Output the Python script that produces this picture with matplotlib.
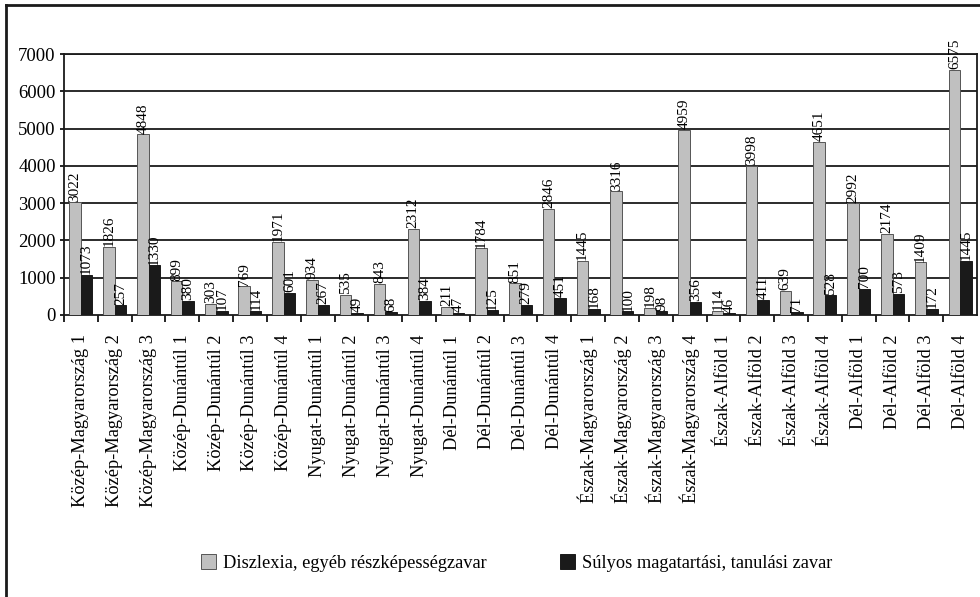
import matplotlib
matplotlib.use("Agg")
import matplotlib.pyplot as plt
from matplotlib.lines import Line2D
import numpy as np

plt.rcParams['font.family'] = ['Liberation Serif', 'DejaVu Serif']

categories = [
    "Közép-Magyarország 1", "Közép-Magyarország 2", "Közép-Magyarország 3",
    "Közép-Dunántúl 1", "Közép-Dunántúl 2", "Közép-Dunántúl 3", "Közép-Dunántúl 4",
    "Nyugat-Dunántúl 1", "Nyugat-Dunántúl 2", "Nyugat-Dunántúl 3", "Nyugat-Dunántúl 4",
    "Dél-Dunántúl 1", "Dél-Dunántúl 2", "Dél-Dunántúl 3", "Dél-Dunántúl 4",
    "Észak-Magyarország 1", "Észak-Magyarország 2", "Észak-Magyarország 3", "Észak-Magyarország 4",
    "Észak-Alföld 1", "Észak-Alföld 2", "Észak-Alföld 3", "Észak-Alföld 4",
    "Dél-Alföld 1", "Dél-Alföld 2", "Dél-Alföld 3", "Dél-Alföld 4",
]
diszlexia = [3022, 1826, 4848, 899, 303, 769, 1971, 934, 535, 843, 2312,
             211, 1784, 851, 2846, 1445, 3316, 198, 4959, 114, 3998, 639, 4651,
             2992, 2174, 1409, 6575]
sulyos = [1073, 257, 1330, 380, 107, 114, 601, 267, 49, 68, 384,
          47, 125, 279, 451, 168, 100, 98, 356, 46, 411, 71, 528,
          700, 573, 172, 1445]
series_names = ["Diszlexia, egyéb részképességzavar", "Súlyos magatartási, tanulási zavar"]

fig = plt.figure(figsize=(9.8, 5.97), dpi=100)
ax = fig.add_axes([0.0653, 0.4724, 0.9317, 0.4371])

x = np.arange(len(categories))
w = 0.34
b1 = ax.bar(x - w / 2, diszlexia, w, color='#c0c0c0', edgecolor='#555555', linewidth=0.7,
            label=series_names[0], zorder=3)
b2 = ax.bar(x + w / 2, sulyos, w, color='#1a1a1a', edgecolor='#1a1a1a', linewidth=0.7,
            label=series_names[1], zorder=3)

for bars in (b1, b2):
    for r in bars:
        ax.text(r.get_x() + r.get_width() / 2, r.get_height() + 20, str(int(r.get_height())),
                rotation=90, ha='center', va='bottom', fontsize=11, zorder=4)

for yv in range(1000, 7001, 1000):
    ax.axhline(yv, color='#1a1a1a', lw=1.3, zorder=1)

ax.set_ylim(0, 7000)
ax.set_xlim(-0.5, len(categories) - 0.5)
ax.set_yticks(range(0, 7001, 1000))
ax.tick_params(axis='y', labelsize=13.5, length=3, width=1.2, pad=3)
ax.set_xticks(x - 0.5, minor=False)
ax.set_xticklabels([])
ax.set_xticks(x, minor=True)
ax.set_xticklabels(categories, minor=True, rotation=90, fontsize=13.2, va='top', ha='center')
ax.tick_params(axis='x', which='major', length=5, width=1.2, direction='out')
ax.tick_params(axis='x', which='minor', length=0, pad=14)
for s in ax.spines.values():
    s.set_linewidth(1.3)
    s.set_color('#1a1a1a')

fig.legend(loc='center', bbox_to_anchor=(0.527, 0.057), ncol=2, frameon=False,
           fontsize=13.2, columnspacing=4.0, handlelength=0.85, handleheight=0.85,
           handletextpad=0.35)

# outer frame (only top and left are visible in the reference)
fig.add_artist(Line2D([0.006, 0.006], [0, 0.992], transform=fig.transFigure,
                      color='#1a1a1a', lw=2))
fig.add_artist(Line2D([0.006, 1.0], [0.992, 0.992], transform=fig.transFigure,
                      color='#1a1a1a', lw=2))

fig.savefig('out.png', dpi=100)
